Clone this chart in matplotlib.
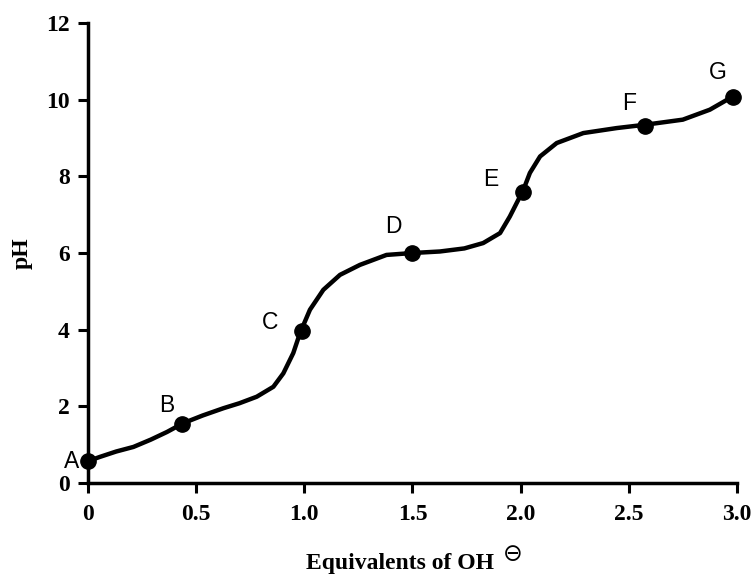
import matplotlib.pyplot as plt

# titration curve
curve_x = [0.0, 0.055, 0.13, 0.21, 0.29, 0.365, 0.44, 0.53, 0.626, 0.70, 0.78, 0.857,
           0.903, 0.949, 0.98, 1.026, 1.088, 1.165, 1.257, 1.38, 1.50, 1.627, 1.74,
           1.827, 1.905, 1.95, 2.013, 2.043, 2.09, 2.167, 2.29, 2.444, 2.58, 2.75,
           2.875, 2.983]
curve_y = [0.57, 0.68, 0.82, 0.94, 1.13, 1.33, 1.56, 1.76, 1.95, 2.08, 2.25, 2.51,
           2.86, 3.39, 3.91, 4.52, 5.04, 5.43, 5.69, 5.95, 6.0, 6.04, 6.12,
           6.26, 6.52, 6.95, 7.65, 8.09, 8.52, 8.87, 9.13, 9.26, 9.35, 9.48,
           9.74, 10.09]

point_names = ['A', 'B', 'C', 'D', 'E', 'F', 'G']
point_x = [0.0, 0.435, 0.99, 1.50, 2.01, 2.575, 2.98]
point_y = [0.57, 1.54, 3.97, 6.0, 7.6, 9.32, 10.08]
label_x = [-0.075, 0.365, 0.84, 1.41, 1.86, 2.50, 2.91]
label_y = [0.55, 2.03, 4.18, 6.68, 7.91, 9.89, 10.7]

xticks = [0, 0.5, 1.0, 1.5, 2.0, 2.5, 3.0]
xtick_labels = ['0', '0.5', '1.0', '1.5', '2.0', '2.5', '3.0']
yticks = [0, 2, 4, 6, 8, 10, 12]

serif = ['Liberation Serif', 'DejaVu Serif']

fig = plt.figure(figsize=(7.55, 5.77), dpi=100)
ax = fig.add_axes([0.1166, 0.163, 0.8594, 0.797])

ax.plot(curve_x, curve_y, color='black', lw=3.2, solid_capstyle='round',
        solid_joinstyle='round', clip_on=False)
ax.plot(point_x, point_y, 'o', color='black', ms=11, clip_on=False)
for n, lx, ly in zip(point_names, label_x, label_y):
    ax.text(lx, ly, n, fontsize=16.5, family='Liberation Sans', ha='center', va='center')

ax.set_xlim(0, 3)
ax.set_ylim(0, 12)
ax.set_xticks(xticks)
ax.set_xticklabels(xtick_labels)
ax.set_yticks(yticks)
for lab in ax.get_xticklabels() + ax.get_yticklabels():
    lab.set_family(serif)
    lab.set_fontweight('bold')
    lab.set_fontsize(17)
ax.tick_params(axis='both', direction='out', length=7, width=2.2, color='black')
ax.tick_params(axis='x', pad=8)
ax.tick_params(axis='y', pad=6)

for s in ['top', 'right']:
    ax.spines[s].set_visible(False)
for s in ['left', 'bottom']:
    ax.spines[s].set_linewidth(2.5)

ax.set_xlabel('Equivalents of OH', family=serif, fontweight='bold', fontsize=17)
ax.xaxis.set_label_coords(0.4815, -0.152)
fig.text(0.6795, 0.040, '\u2296', family='DejaVu Sans', fontsize=17,
         ha='center', va='center')
ax.set_ylabel('pH', family=serif, fontweight='bold', fontsize=17, labelpad=10)

fig.savefig('out.png', dpi=100)
